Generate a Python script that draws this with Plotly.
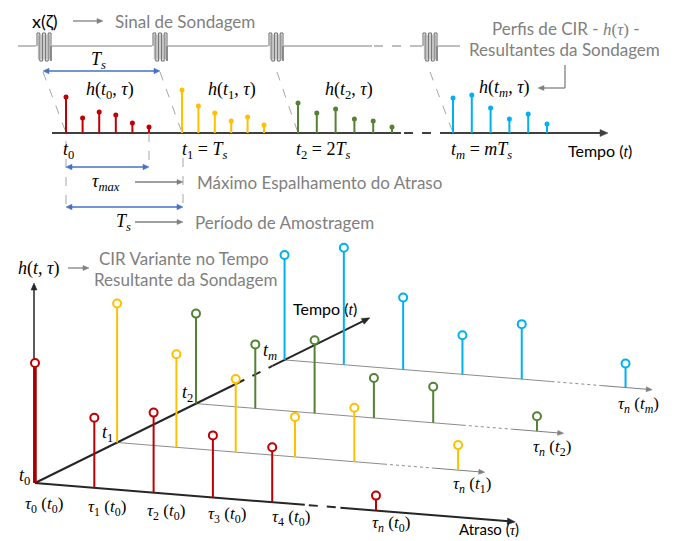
import math
import plotly.graph_objects as go

W, H = 675, 541

# ----------------------------- data -----------------------------
# Top panel: CIR profiles h(t_k, tau) (relative amplitudes, 6 delay taps each)
TOP_PROFILES = ["t0", "t1", "t2", "tm"]
TOP_DELAY_IDX = [0, 1, 2, 3, 4, 5]
TOP_AMP_T0 = [36, 15, 21, 18, 10, 6]
TOP_AMP_T1 = [43, 27, 20, 12, 16, 8]
TOP_AMP_T2 = [30, 20, 24, 14, 12, 6]
TOP_AMP_TM = [35, 38, 25, 14, 19, 9]

# Bottom panel: time-variant CIR h(t, tau)
DELAY_3D = [0, 1, 2, 3, 4, 5.75]          # tau_0 .. tau_4, tau_n
TIME_3D = [0, 1.02, 2, 3.1]                # t_0, t_1, t_2, t_m
AMP_3D_T0 = [120, 70, 80, 62, 55, 15]
AMP_3D_T1 = [139, 93, 73, 40, 54, 25]
AMP_3D_T2 = [90, 64, 73, 40, 36, 15]
AMP_3D_TM = [105, 117, 72, 39, 55, 24]
TAU_SUBS = ["0", "1", "2", "3", "4", "<i>n</i>"]

# ----------------------------- style -----------------------------
RED, YEL, GRN, CYA = "#c00000", "#ffc000", "#548235", "#00b0f0"
BLUE = "#4472c4"
GRAY = "#808080"
DGRAY = "#a6a6a6"
SANS = "Lato"
SERIF = "Liberation Serif"
COLORS = [RED, YEL, GRN, CYA]
GSIZE = 17

shapes, ann, traces = [], [], []


def line(x0, y0, x1, y1, color="black", width=1.0, dash="solid", layer="below"):
    shapes.append(dict(type="line", xref="x", yref="y", x0=x0, y0=y0, x1=x1, y1=y1,
                       line=dict(color=color, width=width, dash=dash), layer=layer))


def head(xt, yt, ux, uy, color, hl, hw, layer):
    bx, by = xt - ux * hl, yt - uy * hl
    px, py = -uy * hw, ux * hw
    p = "M %.2f,%.2f L %.2f,%.2f L %.2f,%.2f Z" % (xt, yt, bx + px, by + py, bx - px, by - py)
    shapes.append(dict(type="path", path=p, xref="x", yref="y", fillcolor=color,
                       line=dict(color=color, width=0.5), layer=layer))


def arrow(x0, y0, x1, y1, color=GRAY, width=1.5, both=False, hl=7.0, hw=3.2, layer="above"):
    L = math.hypot(x1 - x0, y1 - y0)
    ux, uy = (x1 - x0) / L, (y1 - y0) / L
    sx, sy = (x0 + ux * hl * 0.8, y0 + uy * hl * 0.8) if both else (x0, y0)
    ex, ey = x1 - ux * hl * 0.8, y1 - uy * hl * 0.8
    line(sx, sy, ex, ey, color, width, layer=layer)
    head(x1, y1, ux, uy, color, hl, hw, layer)
    if both:
        head(x0, y0, -ux, -uy, color, hl, hw, layer)


def text(x, y, s, size=GSIZE, color="black", family=SANS, xanchor="center"):
    ann.append(dict(x=x, y=y, xref="x", yref="y", text=s, showarrow=False,
                    xanchor=xanchor, yanchor="middle",
                    font=dict(size=size, color=color, family=family)))


def math_text(x, y, s, size=18, xanchor="center"):
    text(x, y, s, size, "black", SERIF, xanchor)


def m(s):
    return "<span style='font-family:%s'>%s</span>" % (SERIF, s)


TS = "<i>T</i><sub><i>s</i></sub>"

# ======================= TOP PANEL =======================
BASE_Y = 133
START_X = [66, 182, 298, 453]
SPACING = [16.6, 16.4, 18.8, 18.8]
TOP_AMPS = [TOP_AMP_T0, TOP_AMP_T1, TOP_AMP_T2, TOP_AMP_TM]

# probing signal line
SIG_Y = 46
line(18, SIG_Y, 372, SIG_Y, "#7f7f7f", 1)
line(374, SIG_Y, 412, SIG_Y, "#7f7f7f", 1, "dash")
line(412, SIG_Y, 460, SIG_Y, "#7f7f7f", 1)
GUIDE_OFF = [6, 7, 8, 7]
for k, sx in enumerate(START_X):
    bx = sx - 29 - (1 if k == 3 else 0)
    shapes.append(dict(type="rect", xref="x", yref="y", x0=bx - 1, x1=bx + 15, y0=SIG_Y - 2,
                       y1=SIG_Y + 2, fillcolor="white", line=dict(width=0), layer="below"))
    p = "M %g,%g V 33" % (bx, SIG_Y)
    xs = bx
    for i in range(5):
        xs += 2.8
        p += " H %g V %g" % (xs, 61 if i % 2 == 0 else 33)
    p += " V %g" % SIG_Y
    shapes.append(dict(type="path", path=p, xref="x", yref="y",
                       line=dict(color="#595959", width=0.9)))
    for i in range(5):
        xi = bx + 1.4 + 2.8 * i
        line(xi, 34.5, xi, 59.5, "#8c8c8c", 0.7)
    # perspective dashed guide
    line(bx + GUIDE_OFF[k], 72, sx - 1, 130, DGRAY, 1, "dash")

# time axis
line(52, BASE_Y, 401, BASE_Y, "#404040", 2)
line(404, BASE_Y, 440, BASE_Y, "#404040", 2, "dash")
arrow(440, BASE_Y, 608, BASE_Y, "#404040", 2, hl=8, hw=3.5, layer="below")

for k in range(4):
    xs, ys, mx, my = [], [], [], []
    for d, a in zip(TOP_DELAY_IDX, TOP_AMPS[k]):
        x = START_X[k] + SPACING[k] * d
        xs += [x, x, None]
        ys += [BASE_Y, BASE_Y - a, None]
        mx.append(x)
        my.append(BASE_Y - a)
    traces.append(go.Scatter(x=xs, y=ys, mode="lines", line=dict(color=COLORS[k], width=2),
                             hoverinfo="skip"))
    traces.append(go.Scatter(x=mx, y=my, mode="markers",
                             marker=dict(color=COLORS[k], size=5, line=dict(width=0)),
                             hoverinfo="skip"))

# top texts
text(45, 21, "x(ζ)", 18)
arrow(73, 21, 103, 21, GRAY, 1.3, hl=6, hw=2.5)
text(113, 21, "Sinal de Sondagem", GSIZE, GRAY, xanchor="left")
math_text(98, 60, TS, 18)
arrow(43, 71, 160, 71, BLUE, 1.5, both=True, hl=6, hw=2.8)

math_text(110, 90, "<i>h</i>(<i>t</i><sub>0</sub>, <i>τ</i>)")
math_text(232, 90, "<i>h</i>(<i>t</i><sub>1</sub>, <i>τ</i>)")
math_text(349, 90, "<i>h</i>(<i>t</i><sub>2</sub>, <i>τ</i>)")
math_text(504, 88, "<i>h</i>(<i>t</i><sub><i>m</i></sub>, <i>τ</i>)")
text(566, 28, "Perfis de CIR - " + m("<i>h</i>(<i>τ</i>)") + " -", GSIZE, GRAY)
text(564, 49, "Resultantes da Sondagem", GSIZE, GRAY)
line(565, 65, 565, 88, GRAY, 1.3)
arrow(565, 88, 538, 88, GRAY, 1.3, hl=6, hw=2.5)

math_text(68, 150, "<i>t</i><sub>0</sub>")
math_text(204, 150, "<i>t</i><sub>1</sub> = " + TS)
math_text(323, 150, "<i>t</i><sub>2</sub> = 2" + TS)
math_text(481, 150, "<i>t</i><sub><i>m</i></sub> = <i>m</i>" + TS)
text(600, 150, "Tempo (" + m("<i>t</i>") + ")", 16)

# delay spread / sampling period
last_red = START_X[0] + SPACING[0] * TOP_DELAY_IDX[-1]
line(START_X[0], 141, START_X[0], 207, DGRAY, 1, "dash")
line(last_red, BASE_Y, last_red, 167, DGRAY, 1, "dash")
line(START_X[1] + 1, 158, START_X[1] + 1, 207, DGRAY, 1, "dash")
arrow(START_X[0], 167, last_red, 167, BLUE, 1.5, both=True, hl=6, hw=2.8)
arrow(START_X[0], 207, START_X[1] + 1, 207, BLUE, 1.5, both=True, hl=6, hw=2.8)
math_text(106, 182, "<i>τ</i><sub><i>max</i></sub>")
arrow(135, 182, 183, 182, GRAY, 1.3, hl=6, hw=2.5)
text(195, 182, "Máximo Espalhamento do Atraso", GSIZE, GRAY, xanchor="left")
math_text(123, 222, TS)
arrow(135, 222, 183, 222, GRAY, 1.3, hl=6, hw=2.5)
text(193, 222, "Período de Amostragem", GSIZE, GRAY, xanchor="left")

# ======================= BOTTOM PANEL (pseudo-3D) =======================
OX, OY = 35, 483
T_VEC = (80.5, -39.7)
D_VEC = (59.3, 4.8)


def proj(t, d, h=0.0):
    return OX + T_VEC[0] * t + D_VEC[0] * d, OY + T_VEC[1] * t + D_VEC[1] * d - h


# main delay axis (t0)
a0 = proj(0, 0)
a1 = proj(0, 4.55)
line(a0[0], a0[1], a1[0], a1[1], "#262626", 2)
a2 = proj(0, 5.15)
line(a1[0] + 4, a1[1] + 0.3, a2[0], a2[1], "#262626", 2, "dash")
a3 = proj(0, 8.1)
arrow(a2[0], a2[1], a3[0], a3[1], "#262626", 2, hl=8, hw=3.2, layer="below")

# delay axes for t1, t2, tm
for t in TIME_3D[1:]:
    b0, b1, b2, b3 = proj(t, 0), proj(t, 4.5), proj(t, 5.35), proj(t, 6.2)
    line(b0[0], b0[1], b1[0], b1[1], "#8c8c8c", 1)
    line(b1[0], b1[1], b2[0], b2[1], "#8c8c8c", 1, "dot")
    arrow(b2[0], b2[1], b3[0], b3[1], "#7f7f7f", 1, hl=6, hw=2.5, layer="below")

# time axis
c0, c1, c2, c3 = proj(0, 0), proj(2.5, 0), proj(2.95, 0), proj(4.16, 0)
line(c0[0], c0[1], c1[0], c1[1], "#262626", 2)
line(c1[0], c1[1], c2[0], c2[1], "#262626", 2, "dash")
arrow(c2[0], c2[1], c3[0], c3[1], "#262626", 2, hl=8, hw=3.2, layer="below")

# vertical amplitude axis
arrow(34, OY, 34, 283, "#262626", 1.5, hl=7, hw=3, layer="below")

AMPS_3D = [AMP_3D_T0, AMP_3D_T1, AMP_3D_T2, AMP_3D_TM]
for k in [3, 2, 1, 0]:
    t = TIME_3D[k]
    xs, ys, mx, my = [], [], [], []
    for d, a in zip(DELAY_3D, AMPS_3D[k]):
        bx, by = proj(t, d)
        tx, ty = proj(t, d, a)
        if k == 0 and d == 0:
            traces.append(go.Scatter(x=[bx, tx], y=[by, ty], mode="lines",
                                     line=dict(color="#a50000", width=3.5), hoverinfo="skip"))
        else:
            xs += [bx, tx, None]
            ys += [by, ty, None]
        mx.append(tx)
        my.append(ty)
    traces.append(go.Scatter(x=xs, y=ys, mode="lines", line=dict(color=COLORS[k], width=2),
                             hoverinfo="skip"))
    traces.append(go.Scatter(x=mx, y=my, mode="markers",
                             marker=dict(color="white", size=8,
                                         line=dict(color=COLORS[k], width=2)),
                             hoverinfo="skip"))

# bottom texts
math_text(38, 268, "<i>h</i>(<i>t</i>, <i>τ</i>)")
arrow(68, 268, 89, 268, GRAY, 1.3, hl=6, hw=2.5)
text(184, 258, "CIR Variante no Tempo", GSIZE, GRAY)
text(185, 279, "Resultante da Sondagem", GSIZE, GRAY)
text(325, 308, "Tempo (" + m("<i>t</i>") + ")", 16)

math_text(24, 476, "<i>t</i><sub>0</sub>")
math_text(107, 433, "<i>t</i><sub>1</sub>")
math_text(187, 393, "<i>t</i><sub>2</sub>")
math_text(270, 351, "<i>t</i><sub><i>m</i></sub>")

TAU_LABEL_POS = [(44, 505), (107, 508), (166, 512), (227, 515), (291, 518), (391, 524)]
for s, (x, y) in zip(TAU_SUBS, TAU_LABEL_POS):
    math_text(x, y, "<i>τ</i><sub>%s</sub> (<i>t</i><sub>0</sub>)" % s, 17)
text(489, 529, "Atraso (" + m("<i>τ</i>") + ")", 15)
math_text(472, 485, "<i>τ</i><sub><i>n</i></sub> (<i>t</i><sub>1</sub>)", 17)
math_text(552, 448, "<i>τ</i><sub><i>n</i></sub> (<i>t</i><sub>2</sub>)", 17)
math_text(638, 405, "<i>τ</i><sub><i>n</i></sub> (<i>t</i><sub><i>m</i></sub>)", 17)

fig = go.Figure(data=traces)
fig.update_layout(
    width=W, height=H, margin=dict(l=0, r=0, t=0, b=0),
    paper_bgcolor="white", plot_bgcolor="white", showlegend=False,
    xaxis=dict(range=[0, W], visible=False, fixedrange=True),
    yaxis=dict(range=[H, 0], visible=False, fixedrange=True),
    shapes=shapes, annotations=ann,
)
fig.write_html("out.html", config={"displayModeBar": False},
               post_script="document.body.style.margin='0';")
